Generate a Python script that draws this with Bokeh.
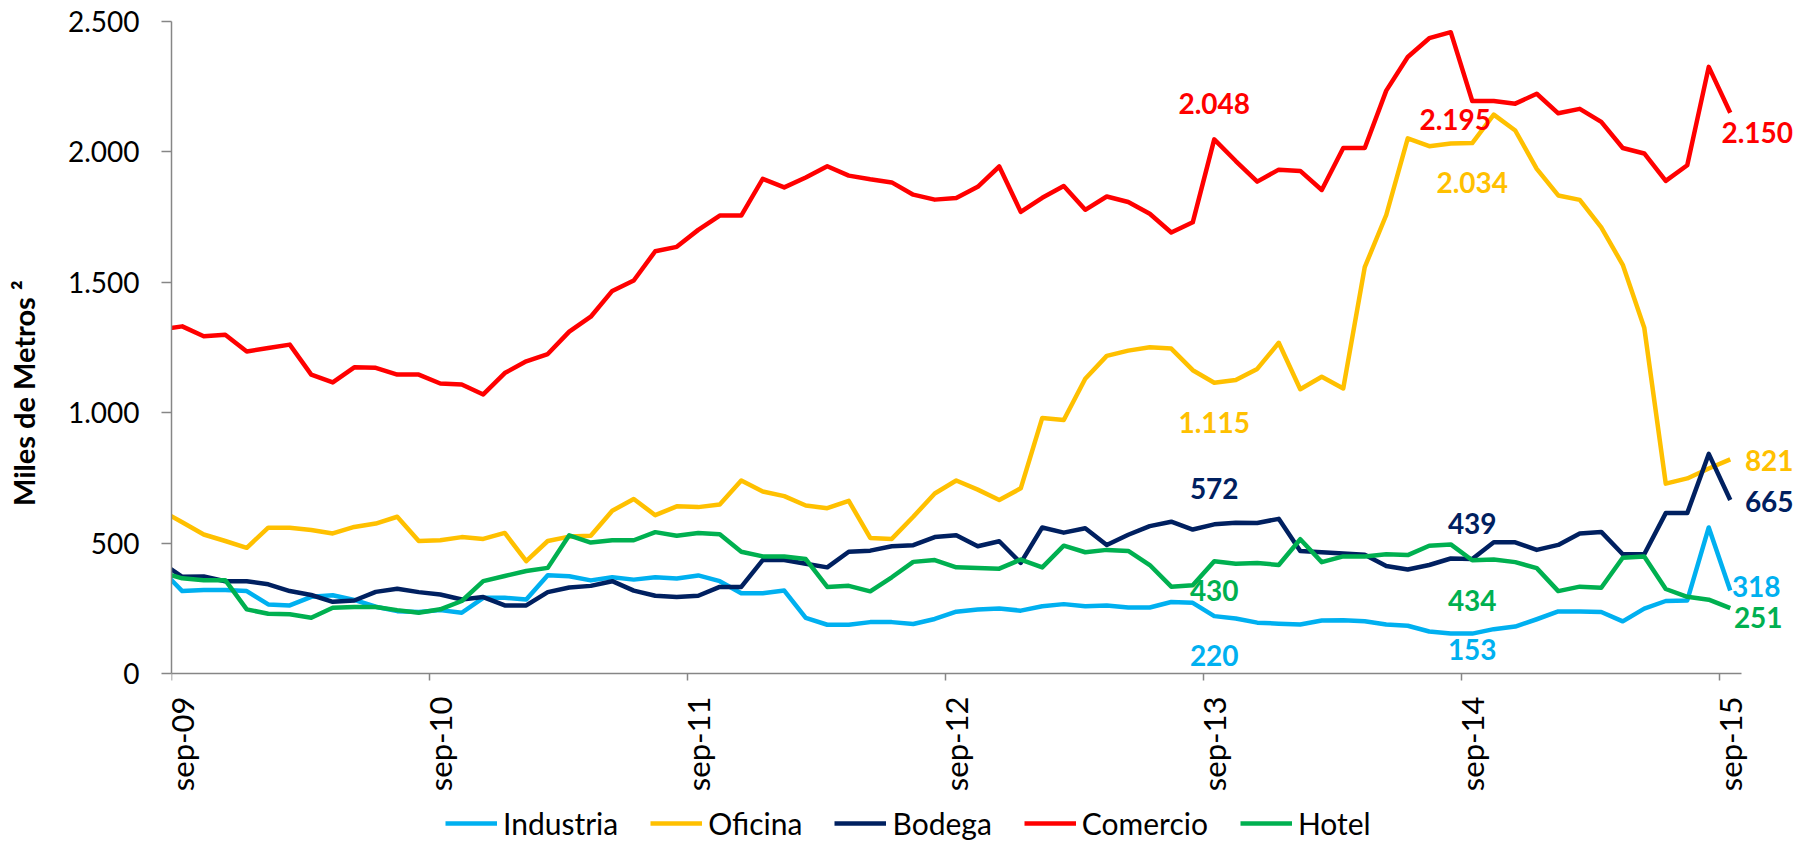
import math
import pandas as pd
from bokeh.plotting import figure
from bokeh.models import (Range1d, FixedTicker, Legend, LegendItem, LabelSet,
                          ColumnDataSource)
from bokeh.core.properties import value
from bokeh.embed import file_html
from bokeh.resources import INLINE

# ---------------- data ----------------
# monthly observations, ago-09 ... sep-15 (74 months), plotted at mid-month
meses = [d.strftime("%m-%y") for d in pd.date_range("2009-08-01", periods=74, freq="MS")]
ABBR = {"01": "ene", "02": "feb", "03": "mar", "04": "abr", "05": "may", "06": "jun",
        "07": "jul", "08": "ago", "09": "sep", "10": "oct", "11": "nov", "12": "dic"}
meses = [ABBR[m[:2]] + "-" + m[3:] for m in meses]

industria = [400, 316, 320, 320, 316, 265, 261, 294, 300, 282, 256, 239, 236, 243, 233, 290,
             290, 284, 377, 373, 357, 369, 360, 369, 364, 376, 354, 308, 308, 318, 213, 187,
             187, 197, 197, 190, 209, 237, 245, 249, 241, 258, 266, 258, 261, 253, 253, 274,
             271, 220, 211, 195, 191, 188, 203, 204, 200, 188, 183, 161, 153, 153, 170, 180,
             208, 238, 238, 236, 200, 249, 278, 280, 560, 318]
oficina = [626, 580, 533, 508, 482, 559, 559, 550, 537, 562, 575, 601, 508, 511, 523, 516,
           539, 431, 508, 525, 528, 624, 669, 607, 641, 638, 648, 740, 698, 680, 644, 634,
           662, 520, 516, 601, 690, 740, 705, 665, 710, 980, 972, 1130, 1218, 1238, 1251, 1246,
           1163, 1115, 1125, 1168, 1268, 1090, 1138, 1093, 1558, 1758, 2052, 2022, 2032, 2034,
           2143, 2082, 1935, 1833, 1816, 1711, 1567, 1326, 728, 748, 786, 821]
bodega = [427, 371, 372, 354, 354, 342, 316, 301, 275, 280, 313, 325, 312, 303, 284, 293,
          261, 261, 312, 330, 336, 354, 318, 298, 293, 298, 332, 332, 435, 435, 421, 407,
          467, 471, 488, 492, 523, 530, 488, 507, 424, 560, 540, 557, 493, 532, 565, 582,
          552, 572, 578, 577, 593, 470, 465, 460, 455, 412, 399, 416, 441, 439, 503, 503,
          474, 493, 537, 543, 457, 457, 615, 615, 842, 665]
comercio = [1319, 1331, 1293, 1299, 1235, 1248, 1261, 1146, 1116, 1174, 1172, 1146, 1146, 1112,
            1108, 1070, 1152, 1197, 1225, 1311, 1368, 1467, 1507, 1619, 1636, 1701, 1756, 1756,
            1897, 1864, 1902, 1945, 1909, 1895, 1883, 1836, 1817, 1823, 1866, 1944, 1770, 1824,
            1869, 1778, 1829, 1808, 1763, 1691, 1730, 2048, 1965, 1886, 1932, 1927, 1854, 2015,
            2015, 2235, 2364, 2436, 2459, 2195, 2195, 2185, 2223, 2148, 2165, 2115, 2015, 1994,
            1889, 1949, 2326, 2150]
hotel = [389, 365, 358, 358, 246, 229, 227, 214, 252, 255, 255, 243, 233, 246, 278, 354,
         374, 393, 405, 530, 502, 511, 511, 542, 528, 539, 534, 467, 449, 449, 439, 332,
         336, 315, 369, 428, 435, 407, 405, 402, 437, 407, 490, 465, 474, 470, 416, 333,
         338, 430, 421, 424, 416, 515, 427, 449, 449, 457, 454, 490, 495, 434, 437, 427,
         404, 316, 333, 329, 444, 449, 324, 294, 283, 251]

series_names = ["Industria", "Oficina", "Bodega", "Comercio", "Hotel"]
series_values = [industria, oficina, bodega, comercio, hotel]
series_colors = ["#00B0F0", "#FFC000", "#002060", "#FF0000", "#00B050"]

tick_labels = ["sep-09", "sep-10", "sep-11", "sep-12", "sep-13", "sep-14", "sep-15"]
y_ticks = [0, 500, 1000, 1500, 2000, 2500]

# months labelled with data values
label_months = ["sep-13", "sep-14", "sep-15"]

# ---------------- helpers ----------------
def fmt(v):
    return f"{int(v):,}".replace(",", ".")

# position of each month (in months from the sep-09 tick, mid-month)
x_pos = [i - 0.5 for i in range(len(meses))]
tick_pos = [12 * i for i in range(len(tick_labels))]

FONT = "Lato"
AXIS_GRAY = "#868686"

W, H = 1810, 842
TOP, LEFT, RIGHT = 21, 171, 2
PLOT_H = 652                      # pixels spanning 0..2500
px_per_unit = PLOT_H / 2500.0
y_start = -(H - TOP - PLOT_H) / px_per_unit
px_per_month = 21.5
x_end = (W - LEFT - RIGHT) / px_per_month

p = figure(width=W, height=H, output_backend="svg", toolbar_location=None,
           x_range=Range1d(0, x_end), y_range=Range1d(y_start, 2500),
           min_border_left=LEFT, min_border_right=RIGHT, min_border_top=TOP,
           min_border_bottom=0)
p.outline_line_color = None
p.xgrid.visible = False
p.ygrid.visible = False
p.background_fill_color = "white"
p.border_fill_color = "white"

renderers = []
for name, vals, col in zip(series_names, series_values, series_colors):
    src = ColumnDataSource(dict(x=x_pos, y=vals, mes=meses))
    r = p.line("x", "y", source=src, line_color=col, line_width=4.5, line_join="round")
    renderers.append(r)

# x axis: drawn at y = 0, from sep-09 to the end of the data
p.xaxis.fixed_location = 0
p.xaxis.bounds = (0, 73)
p.xaxis.ticker = FixedTicker(ticks=tick_pos)
p.xaxis.major_label_overrides = {t: "" for t in tick_pos}
p.xaxis.major_tick_in = 0
p.xaxis.major_tick_out = 7

# x tick labels (vertical, just right of each tick)
xlab = ColumnDataSource(dict(x=tick_pos, y=[0] * len(tick_pos), text=tick_labels))
p.add_layout(LabelSet(x="x", y="y", text="text", source=xlab, angle=math.pi / 2,
                      x_offset=-9, y_offset=-23, text_align="right", text_baseline="top",
                      text_font=value(FONT), text_font_size="31px", text_color="black"))

p.yaxis.bounds = (0, 2500)
p.yaxis.ticker = FixedTicker(ticks=y_ticks)
p.yaxis.major_label_overrides = {t: fmt(t) for t in y_ticks}
p.yaxis.major_tick_in = 0
p.yaxis.major_tick_out = 10
p.yaxis.major_label_standoff = 22
# leading no-break spaces lift the title towards the centre of the 0..2500 span
p.yaxis.axis_label = "\u00a0" * 11 + "Miles de Metros ²"
p.yaxis.axis_label_text_font = FONT
p.yaxis.axis_label_text_font_style = "bold"
p.yaxis.axis_label_text_font_size = "29px"
p.yaxis.axis_label_text_color = "black"
p.yaxis.axis_label_standoff = 24

for ax in (p.xaxis, p.yaxis):
    ax.axis_line_color = AXIS_GRAY
    ax.axis_line_width = 1.5
    ax.major_tick_line_color = AXIS_GRAY
    ax.major_tick_line_width = 1.5
    ax.minor_tick_line_color = None
    ax.major_label_text_font = FONT
    ax.major_label_text_font_size = "28px"
    ax.major_label_text_color = "black"

# data labels: (dx, dy) screen offsets from the point, per month & series
offsets = {
    "sep-13": {"Comercio": (0, 36), "Oficina": (0, -40), "Bodega": (0, 36),
               "Hotel": (0, -29), "Industria": (0, -39)},
    "sep-14": {"Comercio": (-17, -18), "Oficina": (0, -39), "Bodega": (0, 36),
               "Hotel": (0, -40), "Industria": (0, -16)},
    "sep-15": {"Comercio": (27, -20), "Oficina": (39, -1), "Bodega": (39, -1),
               "Hotel": (28, -9), "Industria": (26, 4)},
}
lab = dict(x=[], y=[], text=[], color=[], dx=[], dy=[])
for m in label_months:
    i = meses.index(m)
    for name, vals, col in zip(series_names, series_values, series_colors):
        dx, dy = offsets[m][name]
        lab["x"].append(x_pos[i])
        lab["y"].append(vals[i])
        lab["text"].append(fmt(vals[i]))
        lab["color"].append(col)
        lab["dx"].append(dx)
        lab["dy"].append(dy)
labels = LabelSet(x="x", y="y", text="text", source=ColumnDataSource(lab),
                  x_offset="dx", y_offset="dy", text_color="color",
                  text_font=value(FONT), text_font_style="bold", text_font_size="28px",
                  text_align="center", text_baseline="middle")
p.add_layout(labels)

legend = Legend(items=[LegendItem(label=n, renderers=[r]) for n, r in zip(series_names, renderers)],
                orientation="horizontal", location=(274, 1),
                glyph_width=52, glyph_height=28, label_standoff=6, spacing=32,
                label_text_font=FONT, label_text_font_size="30px", label_text_color="black",
                padding=0, margin=0, border_line_color=None, background_fill_alpha=0)
p.add_layout(legend)

open("out.html", "w").write(file_html(p, INLINE))
